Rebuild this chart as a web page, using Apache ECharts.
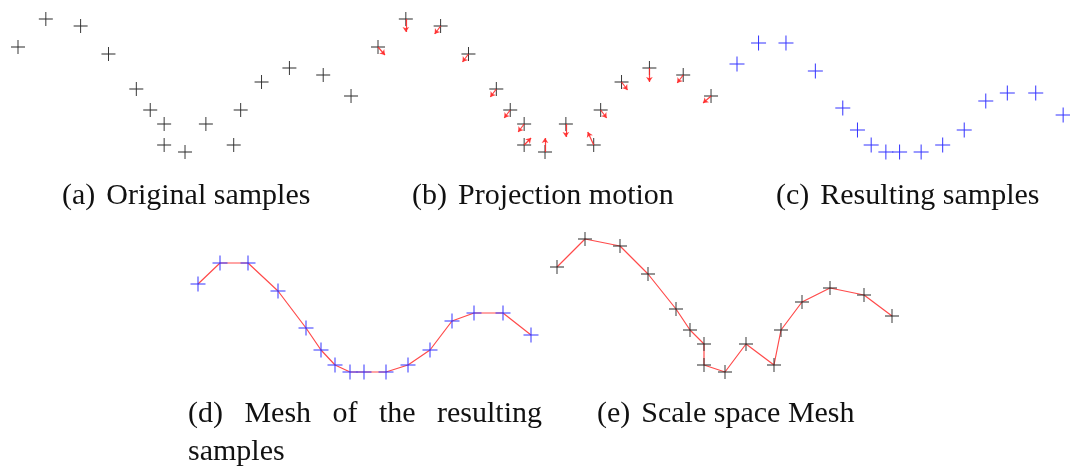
<!DOCTYPE html>
<html>
<head>
<meta charset="utf-8">
<script src="https://cdn.jsdelivr.net/npm/echarts@6/dist/echarts.min.js"></script>
<style>
html,body{margin:0;padding:0;background:#fff;}
#chart{width:1070px;height:468px;}
</style>
</head>
<body>
<div id="chart"></div>
<script>
// ---- data ----
// original samples (panels a, b, e)
const origX = [0, 28, 63, 91, 119, 133, 147, 147, 168, 189, 217, 224, 245, 273, 307, 335];
const origY = [105, 133, 126, 98, 63, 42, 28, 7, 0, 28, 7, 42, 70, 84, 77, 56];
// projection motion vectors (panel b)
const moveDX = [7, 0, -6, -6, -6, -6, -6, 7, 0, 0, -6, 6, 6, 0, -6, -8];
const moveDY = [-8, -13, -8, -8, -8, -8, -8, 7, 14, -13, 13, -8, -8, -14, -8, -7];
// resulting samples (panels c, d)
const resX = [0, 22, 50, 80, 108, 123, 137, 152, 166, 188, 210, 232, 254, 276, 305, 333];
const resY = [88, 109, 109, 81, 44, 22, 7, 0, 0, 0, 7, 22, 51, 59, 59, 37];
// captions
const captionTags = ['(a)', '(b)', '(c)', '(d)', '(e)'];
const captionTexts = ['Original samples', 'Projection motion', 'Resulting samples', 'Mesh of the resulting samples', 'Scale space Mesh'];

// ---- layout ----
const FONT = '30px "Liberation Serif", "DejaVu Serif", serif';
const PLUS = 'path://M7,0h1v15h-1z M0,7h15v1h-15z';
const panels = [
  {left: 18,  top: 12,  width: 338},
  {left: 378, top: 12,  width: 338},
  {left: 737, top: 12,  width: 340},
  {left: 198, top: 232, width: 340},
  {left: 557, top: 232, width: 340}
];
const grid = panels.map(p => ({left: p.left, top: p.top, width: p.width, height: 140, containLabel: false}));
const xAxis = panels.map((p, i) => ({type: 'value', gridIndex: i, min: 0, max: 340, show: false}));
const yAxis = panels.map((p, i) => ({type: 'value', gridIndex: i, min: 0, max: 140, show: false}));

const pts = (xs, ys) => xs.map((x, i) => [x, ys[i]]);
const orig = pts(origX, origY);
const res = pts(resX, resY);
const arrows = origX.map((x, i) => ({coords: [[x, origY[i]], [x + moveDX[i], origY[i] + moveDY[i]]]}));

const black = '#2b2b2b', blue = '#3434ff', red = '#ff4a4a';
function plusSeries(idx, data, color, size, z) {
  return {type: 'scatter', xAxisIndex: idx, yAxisIndex: idx, data, symbol: PLUS, symbolSize: size,
    itemStyle: {color, opacity: 1}, clip: false, silent: true, z: z || 3, animation: false};
}
function lineSeries(idx, data) {
  return {type: 'line', xAxisIndex: idx, yAxisIndex: idx, data, showSymbol: false, symbol: 'none',
    lineStyle: {color: red, width: 1.2}, clip: false, silent: true, z: 2, animation: false};
}

const series = [
  plusSeries(0, orig, black, 14),
  plusSeries(1, orig, black, 14),
  {type: 'lines', coordinateSystem: 'cartesian2d', xAxisIndex: 1, yAxisIndex: 1, data: arrows,
   symbol: ['none', 'arrow'], symbolSize: [0, 5], lineStyle: {color: '#ff2a2a', width: 1.2, opacity: 0.9},
   clip: false, silent: true, z: 4, animation: false},
  plusSeries(2, res, blue, 15),
  lineSeries(3, res),
  plusSeries(3, res, blue, 15),
  lineSeries(4, orig),
  plusSeries(4, orig, black, 14)
];

// ---- captions ----
const ctx = document.createElement('canvas').getContext('2d');
ctx.font = FONT;
const tw = s => ctx.measureText(s).width;
const graphic = [];
function addText(text, x, y) {
  graphic.push({type: 'text', silent: true, style: {text, x, y, font: FONT, fill: '#111', align: 'left', verticalAlign: 'middle'}});
}
const GAP = 11;
const simple = [
  {i: 0, x: 62, y: 196},
  {i: 1, x: 412, y: 196},
  {i: 2, x: 776, y: 196},
  {i: 4, x: 597, y: 414}
];
simple.forEach(c => {
  addText(captionTags[c.i], c.x, c.y);
  addText(captionTexts[c.i], c.x + tw(captionTags[c.i]) + GAP, c.y);
});
// (d): justified two-line caption
(function () {
  const words = [captionTags[3]].concat(captionTexts[3].split(' '));
  const line1 = words.slice(0, 5), line2 = words.slice(5);
  const x0 = 188, x1 = 542, y1 = 414, y2 = 452;
  const total = line1.reduce((s, w) => s + tw(w), 0);
  const gap = (x1 - x0 - total) / (line1.length - 1);
  let x = x0;
  line1.forEach(w => { addText(w, x, y1); x += tw(w) + gap; });
  addText(line2.join(' '), x0, y2);
})();

const chart = echarts.init(document.getElementById('chart'), null, {renderer: 'canvas'});
chart.setOption({backgroundColor: '#fff', animation: false, grid, xAxis, yAxis, series, graphic});
</script>
</body>
</html>
